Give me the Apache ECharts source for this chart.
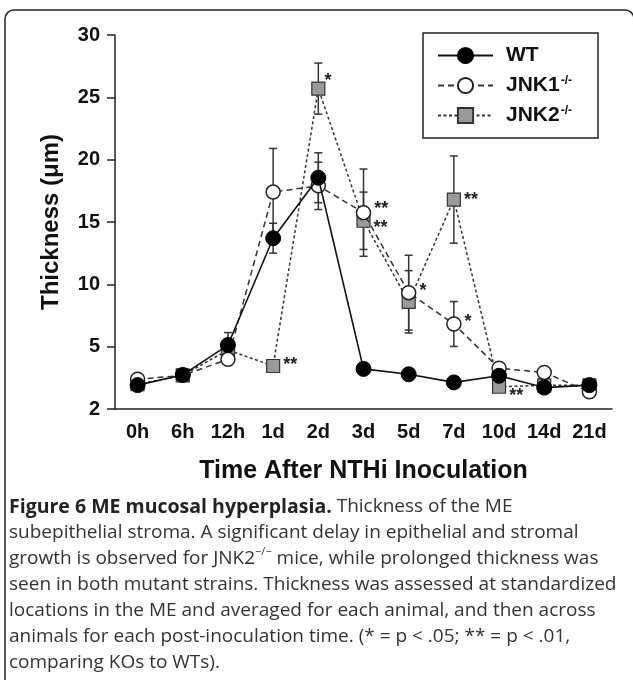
<!DOCTYPE html>
<html lang="en">
<head>
<meta charset="UTF-8" />
<title>ME mucosal hyperplasia</title>
<script src="https://cdn.jsdelivr.net/npm/echarts@6/dist/echarts.min.js"></script>
<style>
  html, body { margin: 0; padding: 0; background: #fff; }
  #main { width: 633px; height: 680px; }
</style>
</head>
<body>
<div id="main"></div>
<script>
// time points after inoculation
const times = ["0h", "6h", "12h", "1d", "2d", "3d", "5d", "7d", "10d", "14d", "21d"];
// labels printed on the y axis (evenly spaced, bottom step 2 -> 5 is compressed)
const yTicks = [2, 5, 10, 15, 20, 25, 30];

// thickness (um)
const wt = [3.15, 3.64, 5.13, 13.7, 18.55, 3.93, 3.67, 3.28, 3.6, 3.03, 3.15];
const wtErr = [0, 0, 1.0, 1.2, 2.0, 0, 0, 0, 0, 0, 0];
const jnk1 = [3.43, 3.62, 4.39, 17.4, 17.9, 15.75, 9.33, 6.82, 3.96, 3.76, 2.83];
const jnk1Err = [0, 0, 0, 3.5, 1.9, 3.5, 3.0, 1.8, 0, 0, 0];
const jnk2 = [3.2, 3.62, 4.84, 4.07, 25.7, 15.1, 8.6, 16.8, 3.07, 3.14, 3.14];
const jnk2Err = [0, 0, 0, 0, 2.05, 2.3, 2.5, 3.5, 0, 0, 0];
// significance vs WT
const jnk1Sig = ["", "", "", "", "", "**", "*", "*", "", "", ""];
const jnk2Sig = ["", "", "", "**", "*", "**", "", "**", "**", "", ""];

const captionLines = [
  "{h|Figure 6 ME mucosal hyperplasia.} Thickness of the ME",
  "subepithelial stroma. A significant delay in epithelial and stromal",
  "growth is observed for JNK2{sup|\u2212/\u2212} mice, while prolonged thickness was",
  "seen in both mutant strains. Thickness was assessed at standardized",
  "locations in the ME and averaged for each animal, and then across",
  "animals for each post-inoculation time. (* = p < .05; ** = p < .01,",
  "comparing KOs to WTs).",
];

const FONT = "Liberation Sans, Arial, sans-serif";
const CAP_FONT = "Open Sans, sans-serif";

// axis is linear from 5 up, the 2..5 step is squeezed into one 5-unit slot
const toAxis = (v) => (v < 5 ? ((v - 2) * 5) / 3 : v);

// nudges for a few asterisks so they sit like in the figure
const sigOffset = {
  "JNK2:4": [-4, -8],
  "JNK2:5": [0, 7],
  "JNK2:8": [0, 9],
  "JNK2:3": [0, -1],
  "JNK1:5": [0, -4],
  "JNK1:6": [0, -2],
  "JNK1:7": [0, -2],
};

function pointData(name, vals, sig) {
  return vals.map((v, i) => {
    const item = { value: toAxis(v) };
    if (sig && sig[i]) {
      item.label = {
        show: true,
        position: "right",
        distance: 3,
        formatter: sig[i],
        offset: sigOffset[name + ":" + i] || [0, 0],
      };
    }
    return item;
  });
}

function errorSeries(vals, errs, z) {
  const data = [];
  vals.forEach((v, i) => {
    if (errs[i] > 0) data.push([i, toAxis(v - errs[i]), toAxis(v + errs[i])]);
  });
  return {
    type: "custom",
    z: z,
    silent: true,
    data: data,
    encode: { x: 0, y: [1, 2] },
    renderItem(params, api) {
      const x = api.value(0);
      const lo = api.coord([x, api.value(1)]);
      const hi = api.coord([x, api.value(2)]);
      const w = 4;
      const st = { stroke: "#333", lineWidth: 1.5 };
      return {
        type: "group",
        children: [
          { type: "line", shape: { x1: lo[0], y1: lo[1], x2: hi[0], y2: hi[1] }, style: st },
          { type: "line", shape: { x1: lo[0] - w, y1: lo[1], x2: lo[0] + w, y2: lo[1] }, style: st },
          { type: "line", shape: { x1: hi[0] - w, y1: hi[1], x2: hi[0] + w, y2: hi[1] }, style: st },
        ],
      };
    },
  };
}

const chart = echarts.init(document.getElementById("main"));

const option = {
  animation: false,
  backgroundColor: "#fff",
  grid: { left: 115, right: 21, top: 35, bottom: 271 },
  legend: {
    orient: "vertical",
    left: 423,
    top: 33,
    padding: [12, 26, 12, 14],
    itemGap: 9,
    itemWidth: 55,
    itemHeight: 19,
    borderColor: "#222",
    borderWidth: 1.5,
    data: ["WT", "JNK1", "JNK2"],
    formatter: (n) => (n === "WT" ? "{b|WT}" : "{b|" + n + "}{s|-/-}"),
    textStyle: {
      rich: {
        b: { fontFamily: FONT, fontSize: 21, fontWeight: "bold", color: "#111", lineHeight: 21, padding: [0, 0, 0, 8] },
        s: { fontFamily: FONT, fontSize: 12, fontWeight: "bold", color: "#111", lineHeight: 12, verticalAlign: "top", padding: [0, 0, 0, 1] },
      },
    },
  },
  xAxis: {
    type: "category",
    data: times,
    boundaryGap: true,
    name: "Time After NTHi Inoculation",
    nameLocation: "middle",
    nameGap: 50,
    nameTextStyle: { fontFamily: FONT, fontSize: 25, fontWeight: "bold", color: "#111" },
    axisLine: { lineStyle: { color: "#222", width: 1.5 } },
    axisTick: { alignWithLabel: true, length: 7, lineStyle: { color: "#222", width: 1.5 } },
    axisLabel: { fontFamily: FONT, fontSize: 20, fontWeight: "bold", color: "#111", margin: 13, interval: 0 },
    splitLine: { show: false },
  },
  yAxis: {
    type: "value",
    min: 0,
    max: 30,
    interval: 5,
    name: "Thickness (\u03bcm)",
    nameLocation: "middle",
    nameGap: 52,
    nameTextStyle: { fontFamily: FONT, fontSize: 24, fontWeight: "bold", color: "#111" },
    axisLine: { show: true, lineStyle: { color: "#222", width: 1.5 } },
    axisTick: { show: true, length: 8, lineStyle: { color: "#222", width: 1.5 } },
    axisLabel: {
      fontFamily: FONT,
      fontSize: 20,
      fontWeight: "bold",
      color: "#111",
      margin: 15,
      formatter: (v) => String(yTicks[Math.round(v / 5)]),
    },
    splitLine: { show: false },
  },
  graphic: [
    {
      type: "rect",
      silent: true,
      shape: { x: 5, y: 10, width: 629, height: 700, r: 9 },
      style: { fill: "none", stroke: "#222", lineWidth: 1.5 },
    },
    {
      type: "text",
      silent: true,
      left: 9,
      top: 494,
      style: {
        text: captionLines.join("\n"),
        fontFamily: CAP_FONT,
        fontSize: 19,
        lineHeight: 26,
        fill: "#333",
        rich: {
          h: { fontFamily: CAP_FONT, fontSize: 19.5, fontWeight: "bold", fill: "#222", lineHeight: 26 },
          sup: { fontFamily: CAP_FONT, fontSize: 11, fill: "#333", verticalAlign: "top", lineHeight: 11 },
        },
      },
    },
  ],
  series: [
    errorSeries(jnk2, jnk2Err, 1),
    errorSeries(jnk1, jnk1Err, 1),
    errorSeries(wt, wtErr, 1),
    {
      name: "JNK2",
      type: "line",
      z: 2,
      data: pointData("JNK2", jnk2, jnk2Sig),
      symbol: "rect",
      symbolSize: 13,
      lineStyle: { color: "#333", width: 1.5, type: [3, 2.5] },
      itemStyle: { color: "#9a9a9a", borderColor: "#333", borderWidth: 1.2 },
      label: { fontFamily: FONT, fontSize: 18, fontWeight: "bold", color: "#222" },
    },
    {
      name: "JNK1",
      type: "line",
      z: 3,
      data: pointData("JNK1", jnk1, jnk1Sig),
      symbol: "circle",
      symbolSize: 14,
      lineStyle: { color: "#333", width: 1.5, type: [6, 4] },
      itemStyle: { color: "#fff", borderColor: "#222", borderWidth: 1.5 },
      label: { fontFamily: FONT, fontSize: 18, fontWeight: "bold", color: "#222" },
    },
    {
      name: "WT",
      type: "line",
      z: 4,
      data: pointData("WT", wt, null),
      symbol: "circle",
      symbolSize: 15,
      lineStyle: { color: "#111", width: 1.6 },
      itemStyle: { color: "#000", borderColor: "#000", borderWidth: 1 },
    },
  ],
};

chart.setOption(option);
</script>
</body>
</html>
